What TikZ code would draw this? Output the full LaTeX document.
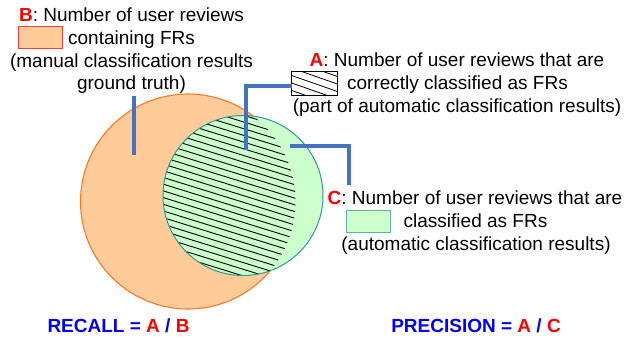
\documentclass[tikz,border=0pt]{standalone}
\usepackage{fontspec}
\setmainfont{Liberation Sans}
\definecolor{orfill}{HTML}{FFCC99}
\definecolor{orline}{HTML}{FF7722}
\definecolor{orbox}{HTML}{FF3B3B}
\definecolor{grfill}{HTML}{CCFFCC}
\definecolor{grline}{HTML}{2E9A94}
\definecolor{grbox}{HTML}{5FB3A3}
\definecolor{conn}{HTML}{4472C4}
\definecolor{tblue}{HTML}{0000FF}
\definecolor{tred}{HTML}{FF0000}
\begin{document}
\begin{tikzpicture}[x=1pt,y=-1pt,
  txt/.style={anchor=base, inner sep=0pt, font=\fontsize{19}{23}\selectfont},
  bigtxt/.style={anchor=base, inner sep=0pt, font=\fontsize{19}{23}\selectfont\bfseries, text=tblue},
  connector/.style={draw=conn, line width=3.2pt},
  hatchline/.style={line width=0.9pt, draw=black},
  legbox/.style={minimum width=44pt, minimum height=22pt, inner sep=0pt, line width=0.9pt}]
\useasboundingbox (0,0) rectangle (625,339);

% circles
\node[circle, inner sep=0pt, minimum size=215pt, fill=orfill, draw=orline, line width=1.1pt] (B) at (188,201.5) {};
\node[circle, inner sep=0pt, minimum size=160pt, fill=grfill] (C) at (243,195.5) {};
\begin{scope}
  \clip (243,195.5) circle (80pt);
  \clip (188,201.5) circle (107.5pt);
  \foreach \k in {-30,...,30}
    \draw[hatchline] (113,{195.5+6.7*\k-40.3}) -- ++(260,80.6);
\end{scope}
\draw[grline, line width=1pt] (C.center) circle (80pt);

% legend boxes
\node[legbox, fill=orfill, draw=orbox] (boxB) at (40,37.5) {};
\node[legbox, fill=white, minimum width=45pt, minimum height=23pt] (boxA) at (314.5,83.5) {};
\begin{scope}
  \clip (boxA.north west) rectangle (boxA.south east);
  \foreach \k in {-4,...,4}
    \draw[line width=0.8pt] (284.5,{83.5+7.5*\k-10.5}) -- ++(60,21);
\end{scope}
\draw[line width=0.9pt] (boxA.north west) rectangle (boxA.south east);
\node[legbox, fill=grfill, draw=grbox] (boxC) at (368.5,221) {};

% B text
\node[txt] (Bl1) at (131.5,21.5) {\textcolor{tred}{\textbf{B}}: Number of user reviews};
\node[txt] (Bl2) at (131.5,44.5) {containing FRs};
\node[txt] (Bl3) at (131.5,67.5) {(manual classification results};
\node[txt] (Bl4) at (131.5,90) {ground truth)};

% A text
\node[txt] (Al1) at (457,67) {\textcolor{tred}{\textbf{A}}: Number of user reviews that are};
\node[txt] (Al2) at (457.5,90) {correctly classified as FRs};
\node[txt] (Al3) at (457,113) {(part of automatic classification results)};

% C text
\node[txt] (Cl1) at (475,205) {\textcolor{tred}{\textbf{C}}: Number of user reviews that are};
\node[txt] (Cl2) at (475.5,228) {classified as FRs};
\node[txt] (Cl3) at (476,251) {(automatic classification results)};

% formulas
\node[bigtxt] (recall) at (118.5,333) {RECALL = \textcolor{tred}{A} / \textcolor{tred}{B}};
\node[bigtxt] (precision) at (476,333) {PRECISION = \textcolor{tred}{A} / \textcolor{tred}{C}};

% connectors
\coordinate (bTop) at (134,96);
\coordinate (bEnd) at (134,155);
\coordinate (aEnd) at (246,150);
\coordinate (cStart) at (290,146);
\coordinate (cEnd) at (349,185);
\draw[connector] (bTop) -- (bEnd);
\draw[connector] ([yshift=-2.5pt]boxA.west) -| (aEnd);
\draw[connector] (cStart) -| (cEnd);
\end{tikzpicture}
\end{document}
